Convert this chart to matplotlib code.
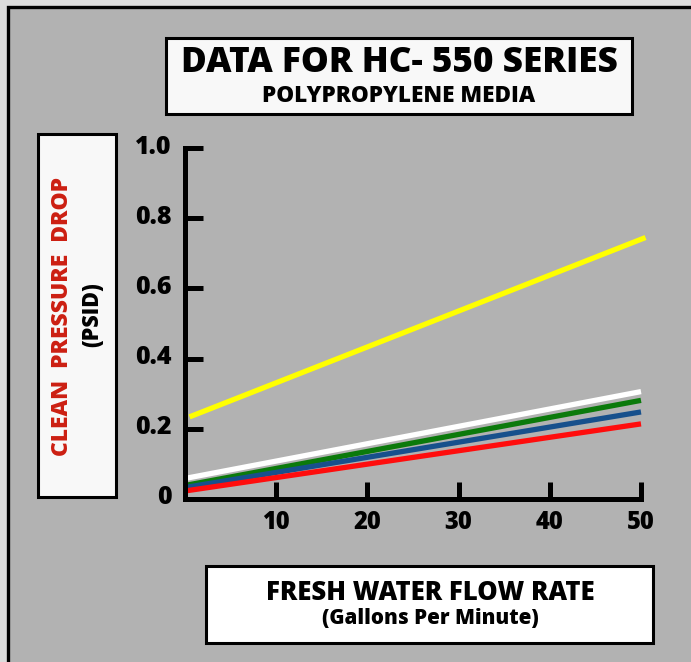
import matplotlib
matplotlib.use('Agg')
import matplotlib.pyplot as plt
import matplotlib.transforms as mtransforms
from matplotlib.patches import Rectangle

W, H = 691, 662

# values (flow in GPM, pressure drop in PSID)
flow = [0.3, 50]
flow_yellow = [0.5, 50.5]
drop_yellow = [0.234, 0.745]
drop_white = [0.06, 0.306]
drop_green = [0.04, 0.281]
drop_blue = [0.034, 0.248]
drop_red = [0.024, 0.214]

x_ticks = [10, 20, 30, 40, 50]
y_ticks = [0, 0.2, 0.4, 0.6, 0.8, 1.0]
y_tick_labels = ['0', '0.2', '0.4', '0.6', '0.8', '1.0']

plt.rcParams['font.family'] = ['Open Sans', 'DejaVu Sans']
WEIGHT = 'heavy'


def fx(px):
    return px / W


def fy(py):
    return 1 - py / H


def box(fig, x0, y0, x1, y1, face, lw=2.2):
    fig.add_artist(Rectangle((fx(x0), fy(y1)), fx(x1) - fx(x0), fy(y0) - fy(y1),
                             transform=fig.transFigure, facecolor=face,
                             edgecolor='black', linewidth=lw, zorder=1))


fig = plt.figure(figsize=(W / 100, H / 100), dpi=100, facecolor='#dcdcdc')

# outer panel
box(fig, 7.5, 7.5, W + 20, H + 20, '#b2b2b2', lw=2.4)

# title, y label and x label boxes
box(fig, 166, 38, 632, 114, '#f8f8f8')
box(fig, 38, 134, 116, 497, '#f8f8f8')
box(fig, 206, 566, 653, 643, 'white')

ax = fig.add_axes([fx(185), fy(499), (641 - 185) / W, (499 - 148) / H])
ax.set_facecolor('none')
ax.set_zorder(5)

lw = 3.8
ax.plot(flow_yellow, drop_yellow, color='#ffff00', linewidth=lw, solid_capstyle='butt', clip_on=False)
ax.plot(flow, drop_white, color='white', linewidth=lw, solid_capstyle='butt', clip_on=False)
ax.plot(flow, drop_green, color='#0b7a0b', linewidth=lw, solid_capstyle='butt', clip_on=False)
ax.plot(flow, drop_blue, color='#17508c', linewidth=lw, solid_capstyle='butt', clip_on=False)
ax.plot(flow, drop_red, color='#ff0d0d', linewidth=lw, solid_capstyle='butt', clip_on=False)

ax.set_xlim(0, 50)
ax.set_ylim(0, 1.0)

for side in ['top', 'right']:
    ax.spines[side].set_visible(False)
for side in ['left', 'bottom']:
    ax.spines[side].set_linewidth(3.6)
    ax.spines[side].set_color('black')

ax.set_xticks(x_ticks)
ax.set_xticklabels([str(t) for t in x_ticks])
ax.set_yticks(y_ticks)
ax.set_yticklabels(y_tick_labels)
ax.tick_params(axis='x', direction='in', length=12, width=3.6, pad=8,
               labelsize=17)
ax.tick_params(axis='y', direction='in', length=13, width=3.6, pad=9.5,
               labelsize=18)
for lab in ax.get_xticklabels() + ax.get_yticklabels():
    lab.set_fontweight(WEIGHT)
# y labels sit a little above their ticks in the original
up = mtransforms.ScaledTranslation(0, 4 / 100, fig.dpi_scale_trans)
for lab in ax.get_yticklabels():
    lab.set_transform(lab.get_transform() + up)

fig.text(fx(399), fy(63), 'DATA FOR HC- 550 SERIES', ha='center', va='center',
         fontsize=25.3, fontweight=WEIGHT)
fig.text(fx(399), fy(96), 'POLYPROPYLENE MEDIA', ha='center', va='center',
         fontsize=16.2, fontweight=WEIGHT)

fig.text(fx(62), fy(316), 'CLEAN  PRESSURE  DROP', ha='center', va='center',
         rotation=90, color='#cc1f12', fontsize=16.5, fontweight=WEIGHT)
fig.text(fx(92), fy(315), '(PSID)', ha='center', va='center',
         rotation=90, fontsize=15.5, fontweight=WEIGHT)

fig.text(fx(430), fy(593), 'FRESH WATER FLOW RATE', ha='center', va='center',
         fontsize=18.5, fontweight=WEIGHT)
fig.text(fx(430), fy(619), '(Gallons Per Minute)', ha='center', va='center',
         fontsize=14.8, fontweight=WEIGHT)

fig.savefig('out.png', dpi=100, facecolor=fig.get_facecolor())
